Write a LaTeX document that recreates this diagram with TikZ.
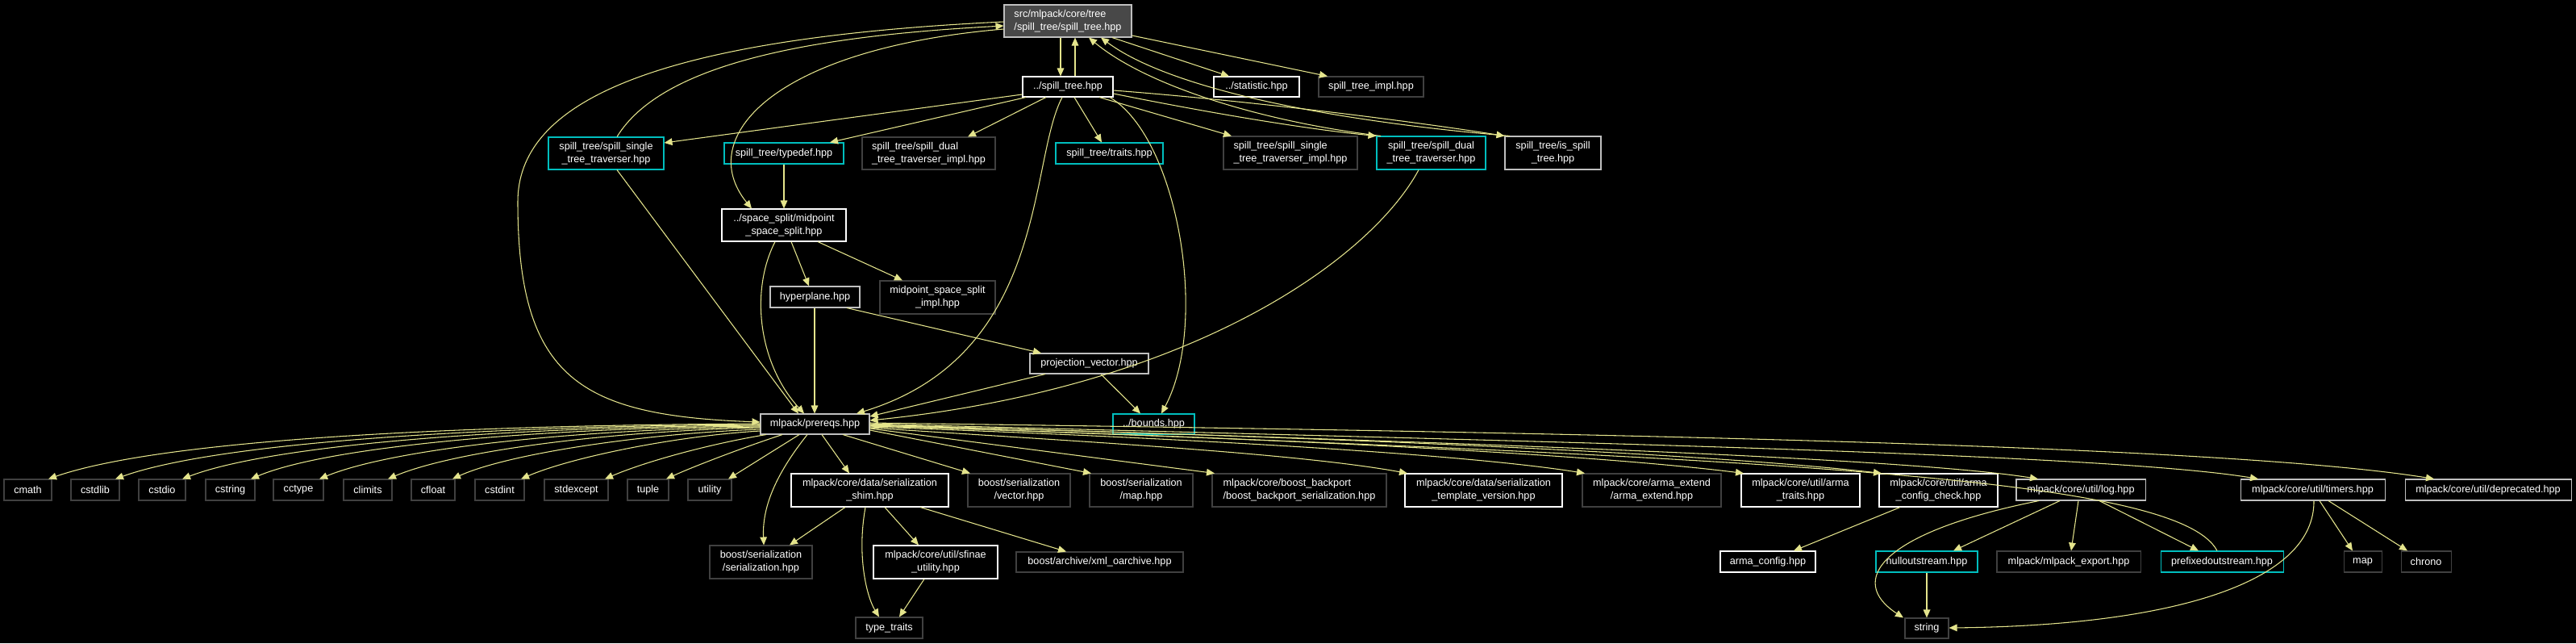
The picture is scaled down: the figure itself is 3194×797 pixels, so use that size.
\documentclass[tikz,border=0pt]{standalone}
\usepackage{fontspec}
\setmainfont{Liberation Sans}
\usetikzlibrary{arrows.meta}
\definecolor{edgec}{RGB}{228,228,140}
\definecolor{lgray}{RGB}{191,191,191}
\definecolor{dgray}{RGB}{64,64,64}
\definecolor{cyanb}{RGB}{0,190,190}
\definecolor{rootfill}{RGB}{72,72,72}
\newcommand\gnode[7]{\node[#6, minimum width={(#3-#2)*0.75pt}, minimum height={(#5-#4)*0.75pt}] (#1) at ({(#2+#3)/2},{(#4+#5)/2}) {#7};}
\tikzset{
 nb/.style={draw, rectangle, inner sep=0pt, text=white, font=\fontsize{9.5}{12}\selectfont, align=center, line width=0.8pt},
 cw/.style={nb, draw=white},
 cg/.style={nb, draw=lgray},
 cd/.style={nb, draw=dgray},
 cc/.style={nb, draw=cyanb},
 rt/.style={nb, draw=lgray, fill=rootfill},
 dep/.style={draw=edgec, line width=0.8pt, -{Triangle[length=7.5pt,width=6.5pt]}},
}
\begin{document}
\begin{tikzpicture}[x=0.75pt,y=-0.75pt]
\fill[black] (0,0) rectangle (3194,797);
\useasboundingbox (0,0) rectangle (3194,797);
% nodes
\gnode{root}{1245}{1403}{6}{46}{rt,align=left}{src/mlpack/core/tree\\/spill\_tree/spill\_tree.hpp}
\gnode{spilltree}{1268}{1380}{95}{120}{cw}{../spill\_tree.hpp}
\gnode{statistic}{1505}{1611}{95}{120}{cw}{../statistic.hpp}
\gnode{impl}{1635}{1765}{95}{120}{cd}{spill\_tree\_impl.hpp}
\gnode{single}{680}{823}{170}{210}{cc}{spill\_tree/spill\_single\\\_tree\_traverser.hpp}
\gnode{typedef}{898}{1046}{177}{203}{cc}{spill\_tree/typedef.hpp}
\gnode{dualimpl}{1069}{1234}{170}{210}{cd,align=left}{spill\_tree/spill\_dual\\\_tree\_traverser\_impl.hpp}
\gnode{traits}{1309}{1442}{177}{203}{cc}{spill\_tree/traits.hpp}
\gnode{singleimpl}{1517}{1683}{169}{210}{cd,align=left}{spill\_tree/spill\_single\\\_tree\_traverser\_impl.hpp}
\gnode{dual}{1707}{1842}{169}{210}{cc}{spill\_tree/spill\_dual\\\_tree\_traverser.hpp}
\gnode{isspill}{1866}{1985}{169}{210}{cg}{spill\_tree/is\_spill\\\_tree.hpp}
\gnode{midpoint}{895}{1049}{259}{299}{cw}{../space\_split/midpoint\\\_space\_split.hpp}
\gnode{hyperplane}{955}{1066}{355}{381}{cg}{hyperplane.hpp}
\gnode{midimpl}{1091}{1234}{348}{389}{cd}{midpoint\_space\_split\\\_impl.hpp}
\gnode{projvec}{1277}{1424}{438}{463}{cg}{projection\_vector.hpp}
\gnode{prereqs}{943}{1078}{513}{538}{cg}{mlpack/prereqs.hpp}
\gnode{bounds}{1380}{1481}{513}{538}{cc}{../bounds.hpp}
\gnode{cmath}{5}{64}{594}{620}{cd}{cmath}
\gnode{cstdlib}{88}{148}{594}{620}{cd}{cstdlib}
\gnode{cstdio}{172}{230}{594}{620}{cd}{cstdio}
\gnode{cstring}{255}{316}{594}{620}{cd}{cstring}
\gnode{cctype}{339}{401}{594}{620}{cd}{cctype}
\gnode{climits}{426}{486}{594}{620}{cd}{climits}
\gnode{cfloat}{510}{564}{594}{620}{cd}{cfloat}
\gnode{cstdint}{589}{650}{594}{620}{cd}{cstdint}
\gnode{stdexcept}{675}{754}{594}{620}{cd}{stdexcept}
\gnode{tuple}{778}{829}{594}{620}{cd}{tuple}
\gnode{utility}{853}{907}{594}{620}{cd}{utility}
\gnode{shim}{981}{1176}{587}{628}{cw}{mlpack/core/data/serialization\\\_shim.hpp}
\gnode{vector}{1200}{1327}{587}{628}{cd}{boost/serialization\\/vector.hpp}
\gnode{bmap}{1351}{1479}{587}{628}{cd}{boost/serialization\\/map.hpp}
\gnode{backport}{1503}{1719}{587}{628}{cd,align=left}{mlpack/core/boost\_backport\\/boost\_backport\_serialization.hpp}
\gnode{tmplver}{1742}{1937}{587}{628}{cw}{mlpack/core/data/serialization\\\_template\_version.hpp}
\gnode{armaext}{1962}{2134}{587}{628}{cd}{mlpack/core/arma\_extend\\/arma\_extend.hpp}
\gnode{armatraits}{2159}{2306}{587}{628}{cw}{mlpack/core/util/arma\\\_traits.hpp}
\gnode{armacfgchk}{2330}{2477}{587}{628}{cw}{mlpack/core/util/arma\\\_config\_check.hpp}
\gnode{log}{2500}{2660}{594}{620}{cg}{mlpack/core/util/log.hpp}
\gnode{timers}{2778}{2957}{594}{620}{cg}{mlpack/core/util/timers.hpp}
\gnode{deprecated}{2982}{3188}{594}{620}{cg}{mlpack/core/util/deprecated.hpp}
\gnode{sers}{880}{1007}{676}{717}{cd}{boost/serialization\\/serialization.hpp}
\gnode{sfinae}{1083}{1237}{676}{717}{cw}{mlpack/core/util/sfinae\\\_utility.hpp}
\gnode{xml}{1260}{1467}{684}{709}{cd}{boost/archive/xml\_oarchive.hpp}
\gnode{typetraits}{1061}{1144}{765}{791}{cd}{type\_traits}
\gnode{armacfg}{2133}{2251}{683}{709}{cw}{arma\_config.hpp}
\gnode{nullout}{2326}{2452}{683}{709}{cc}{nulloutstream.hpp}
\gnode{export}{2476}{2654}{683}{709}{cd}{mlpack/mlpack\_export.hpp}
\gnode{prefixed}{2679}{2831}{683}{709}{cc}{prefixedoutstream.hpp}
\gnode{string}{2362}{2416}{766}{791}{cd}{string}
\gnode{stdmap}{2906}{2953}{683}{709}{cd}{map}
\gnode{chrono}{2977}{3039}{683}{709}{cd}{chrono}
% edges: top
\draw[dep] (1315,0 |- root.south) -- (1315,0 |- spilltree.north);
\draw[dep] (1333,0 |- spilltree.north) -- (1333,0 |- root.south);
\draw[dep] (1379,0 |- root.south) -- (1524,0 |- statistic.north);
\draw[dep] (root.east |- 0,44) -- (1646,0 |- impl.north);
\draw[dep] (1712,0 |- dual.north) .. controls (1560,150) and (1420,105) .. (1350,0 |- root.south);
\draw[dep] (1872,0 |- isspill.north) .. controls (1650,150) and (1450,110) .. (1365,0 |- root.south);
\draw[dep] (spilltree.west |- 0,117) -- (single.east |- 0,177);
\draw[dep] (1272,0 |- spilltree.south) -- (1029,0 |- typedef.north);
\draw[dep] (1297,0 |- spilltree.south) -- (1200,0 |- dualimpl.north);
\draw[dep] (1332,0 |- spilltree.south) -- (1366,0 |- traits.north);
\draw[dep] (1363,0 |- spilltree.south) -- (1527,0 |- singleimpl.north);
\draw[dep] (spilltree.east |- 0,116) .. controls (1500,140) and (1620,160) .. (dual.north west);
\draw[dep] (spilltree.east |- 0,112) .. controls (1550,125) and (1750,150) .. (isspill.north west);
\draw[dep] (1317,0 |- spilltree.south) .. controls (1275,200) and (1300,440) .. (1062,0 |- prereqs.north);
\draw[dep] (1376,0 |- spilltree.south) .. controls (1460,170) and (1500,400) .. (1440,0 |- bounds.north);
\draw[dep] (root.west |- 0,27) .. controls (800,48) and (642,130) .. (642,250) .. controls (642,470) and (720,515) .. (prereqs.west |- 0,523);
\draw[dep] (765,0 |- single.north) .. controls (820,80) and (1000,45) .. (root.west |- 0,32);
\draw[dep] (root.west |- 0,36) .. controls (960,60) and (860,170) .. (932,0 |- midpoint.north);
\draw[dep] (972,0 |- typedef.south) -- (972,0 |- midpoint.north);
\draw[dep] (765,0 |- single.south) -- (990,0 |- prereqs.north);
\draw[dep] (961,0 |- midpoint.south) .. controls (930,360) and (940,450) .. (997,0 |- prereqs.north);
\draw[dep] (981,0 |- midpoint.south) -- (1003,0 |- hyperplane.north);
\draw[dep] (1014,0 |- midpoint.south) -- (1119,0 |- midimpl.north);
\draw[dep] (1010,0 |- hyperplane.south) -- (1010,0 |- prereqs.north);
\draw[dep] (1050,0 |- hyperplane.south) -- (1291,0 |- projvec.north);
\draw[dep] (1296,0 |- projvec.south) -- (prereqs.east |- 0,516);
\draw[dep] (1365,0 |- projvec.south) -- (1414,0 |- bounds.north);
\draw[dep] (1759,0 |- dual.south) .. controls (1700,320) and (1480,480) .. (prereqs.east |- 0,521);
% prereqs fan left
\draw[dep] (prereqs.west |- 0,525) .. controls (560,527) and (200,545) .. (60,0 |- cmath.north);
\draw[dep] (prereqs.west |- 0,526) .. controls (600,528) and (270,548) .. (143,0 |- cstdlib.north);
\draw[dep] (prereqs.west |- 0,527) .. controls (640,529) and (340,550) .. (226,0 |- cstdio.north);
\draw[dep] (prereqs.west |- 0,528) .. controls (680,530) and (410,552) .. (311,0 |- cstring.north);
\draw[dep] (prereqs.west |- 0,529) .. controls (720,532) and (490,555) .. (396,0 |- cctype.north);
\draw[dep] (prereqs.west |- 0,530) .. controls (760,534) and (565,558) .. (481,0 |- climits.north);
\draw[dep] (prereqs.west |- 0,532) .. controls (800,537) and (630,562) .. (561,0 |- cfloat.north);
\draw[dep] (prereqs.west |- 0,534) .. controls (840,540) and (710,566) .. (646,0 |- cstdint.north);
\draw[dep] (950,0 |- prereqs.south) .. controls (880,550) and (800,572) .. (750,0 |- stdexcept.north);
\draw[dep] (970,0 |- prereqs.south) .. controls (920,555) and (860,578) .. (826,0 |- tuple.north);
\draw[dep] (991,0 |- prereqs.south) -- (903,0 |- utility.north);
% prereqs fan right
\draw[dep] (1001,0 |- prereqs.south) .. controls (960,590) and (945,630) .. (947,0 |- sers.north);
\draw[dep] (1019,0 |- prereqs.south) -- (1053,0 |- shim.north);
\draw[dep] (1045,0 |- prereqs.south) -- (1203,0 |- vector.north);
\draw[dep] (prereqs.east |- 0,533) -- (1353,0 |- bmap.north);
\draw[dep] (prereqs.east |- 0,531) -- (1506,0 |- backport.north);
\draw[dep] (prereqs.east |- 0,530) .. controls (1300,545) and (1600,560) .. (1745,0 |- tmplver.north);
\draw[dep] (prereqs.east |- 0,529) .. controls (1400,540) and (1800,560) .. (1965,0 |- armaext.north);
\draw[dep] (prereqs.east |- 0,528) .. controls (1500,540) and (1950,560) .. (2162,0 |- armatraits.north);
\draw[dep] (prereqs.east |- 0,527) .. controls (1600,540) and (2100,560) .. (2333,0 |- armacfgchk.north);
\draw[dep] (prereqs.east |- 0,526) .. controls (1700,545) and (2350,565) .. (2527,0 |- log.north);
\draw[dep] (prereqs.east |- 0,525) .. controls (1800,545) and (2600,560) .. (2800,0 |- timers.north);
\draw[dep] (prereqs.east |- 0,524) .. controls (1900,535) and (2750,550) .. (3018,0 |- deprecated.north);
\draw[dep] (2749,0 |- prefixed.north) .. controls (2700,590) and (2200,568) .. (prereqs.east |- 0,527);
% lower edges
\draw[dep] (1048,0 |- shim.south) -- (979,0 |- sers.north);
\draw[dep] (1073,0 |- shim.south) .. controls (1062,690) and (1075,740) .. (1090,0 |- typetraits.north);
\draw[dep] (1097,0 |- shim.south) -- (1139,0 |- sfinae.north);
\draw[dep] (1141,0 |- shim.south) -- (1322,0 |- xml.north);
\draw[dep] (1146,0 |- sfinae.south) -- (1115,0 |- typetraits.north);
\draw[dep] (2356,0 |- armacfgchk.south) -- (2224,0 |- armacfg.north);
\draw[dep] (2528,0 |- log.south) .. controls (2330,660) and (2290,720) .. (2360,0 |- string.north);
\draw[dep] (2554,0 |- log.south) -- (2422,0 |- nullout.north);
\draw[dep] (2577,0 |- log.south) -- (2568,0 |- export.north);
\draw[dep] (2603,0 |- log.south) -- (2726,0 |- prefixed.north);
\draw[dep] (2389,0 |- nullout.south) -- (2389,0 |- string.north);
\draw[dep] (2869,0 |- timers.south) .. controls (2870,720) and (2700,775) .. (string.east |- 0,778);
\draw[dep] (2876,0 |- timers.south) -- (2917,0 |- stdmap.north);
\draw[dep] (2887,0 |- timers.south) -- (2985,0 |- chrono.north);
\end{tikzpicture}
\end{document}
